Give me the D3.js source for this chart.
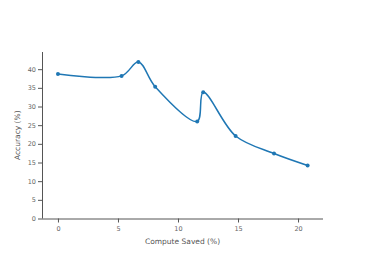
<!DOCTYPE html>
<html>
<head>
<meta charset="utf-8">
<script src="https://cdn.jsdelivr.net/npm/d3@7"></script>
<style>
body { margin: 0; background: #fff; }
text { font-family: "DejaVu Sans", Verdana, sans-serif; }
</style>
</head>
<body>
<div id="chart"></div>
<script>
const computeSaved = [0, 5.3, 6.7, 8.1, 11.6, 12.1, 14.8, 18.0, 20.8];
const accuracy = [38.7, 38.2, 41.9, 35.3, 26.0, 33.8, 22.1, 17.4, 14.2];
const xTicks = [0, 5, 10, 15, 20];
const yTicks = [0, 5, 10, 15, 20, 25, 30, 35, 40];

const width = 366;
const height = 261;
const margin = { top: 52, right: 43, bottom: 43, left: 42 };

const svg = d3.select('#chart')
    .append('svg')
    .attr('width', width)
    .attr('height', height);

const x = d3.scaleLinear()
    .domain([-1.33, 22.08])
    .range([margin.left, width - margin.right]);

const y = d3.scaleLinear()
    .domain([0, 44.6])
    .range([height - margin.bottom + 0.5, margin.top]);

const data = computeSaved.map((d, i) => ({ x: d, y: accuracy[i] }));

const xAxis = svg.append('g')
    .attr('transform', `translate(0,${y(0)})`)
    .call(d3.axisBottom(x).tickValues(xTicks).tickSize(4).tickPadding(4));

const yAxis = svg.append('g')
    .attr('transform', `translate(${margin.left},0)`)
    .call(d3.axisLeft(y).tickValues(yTicks).tickSize(4).tickPadding(2));

[xAxis, yAxis].forEach(g => {
    g.select('.domain').attr('stroke', '#555').attr('stroke-width', 1);
    g.selectAll('.tick line').attr('stroke', '#555');
    g.selectAll('.tick text').attr('fill', '#666').style('font-size', '6.5px');
});
yAxis.select('.domain').attr('d', `M0.5,${y(0)}V${margin.top}`);
xAxis.select('.domain').attr('d', `M${margin.left},0.5H${width - margin.right}`);

svg.append('path')
    .datum(data)
    .attr('fill', 'none')
    .attr('stroke', '#1f77b4')
    .attr('stroke-width', 1.5)
    .attr('d', d3.line()
        .x(d => x(d.x))
        .y(d => y(d.y))
        .curve(d3.curveCatmullRom.alpha(0.5)));

svg.selectAll('.dot')
    .data(data)
    .enter().append('circle')
    .attr('class', 'dot')
    .attr('cx', d => x(d.x))
    .attr('cy', d => y(d.y))
    .attr('r', 2)
    .attr('fill', '#1f77b4');

svg.append('text')
    .attr('x', 182.5)
    .attr('y', 244)
    .attr('text-anchor', 'middle')
    .attr('fill', '#555')
    .style('font-size', '7.5px')
    .text('Compute Saved (%)');

svg.append('text')
    .attr('transform', `translate(20,${(margin.top + y(0)) / 2}) rotate(-90)`)
    .attr('text-anchor', 'middle')
    .attr('fill', '#555')
    .style('font-size', '7.5px')
    .text('Accuracy (%)');
</script>
</body>
</html>
